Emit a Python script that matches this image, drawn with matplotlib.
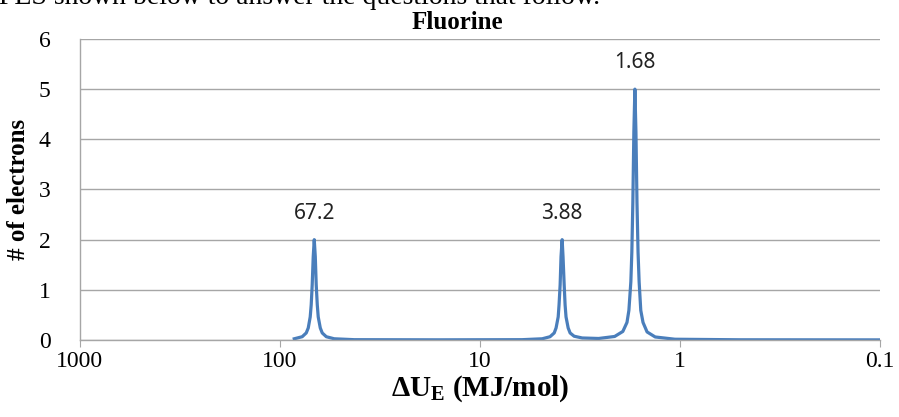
import matplotlib.pyplot as plt

plt.rcParams['mathtext.fontset'] = 'custom'
plt.rcParams['mathtext.rm'] = 'Liberation Serif'
plt.rcParams['mathtext.bf'] = 'Liberation Serif:bold'

# PES spectrum of fluorine
peak_a_x = [84.6, 77.2, 73.7, 72.0, 70.4, 69.6, 68.8, 68.0, 67.2, 66.4, 65.7, 64.9,
            64.2, 62.7, 61.3, 58.5, 53.4, 42.4]
peak_a_y = [0.024, 0.065, 0.14, 0.24, 0.46, 0.70, 1.10, 1.66, 2.0, 1.66, 1.10, 0.70,
            0.46, 0.24, 0.14, 0.065, 0.024, 0.006]
gap_x = [16.0]
gap_y = [0.003]
peak_b_x = [6.15, 4.88, 4.46, 4.25, 4.16, 4.06, 4.02, 3.97, 3.93, 3.88, 3.84, 3.79,
            3.75, 3.71, 3.62, 3.54, 3.38, 3.08, 2.55]
peak_b_y = [0.006, 0.024, 0.065, 0.14, 0.24, 0.46, 0.70, 1.10, 1.66, 2.0, 1.66, 1.10,
            0.70, 0.46, 0.24, 0.14, 0.075, 0.04, 0.03]
peak_c_x = [2.12, 1.93, 1.84, 1.80, 1.76, 1.74, 1.72, 1.70, 1.68, 1.66, 1.64, 1.62,
            1.60, 1.57, 1.53, 1.46, 1.33, 1.06, 0.5, 0.1]
peak_c_y = [0.07, 0.17, 0.35, 0.59, 1.16, 1.75, 2.74, 4.15, 5.0, 4.15, 2.74, 1.75,
            1.16, 0.59, 0.35, 0.16, 0.06, 0.015, 0.004, 0.002]

label_x = [67.2, 3.88, 1.68]
label_y = [2, 2, 5]
label_text = ['67.2', '3.88', '1.68']

x_ticks = [1000, 100, 10, 1, 0.1]
x_tick_labels = ['1000', '100', '10', '1', '0.1']
y_ticks = [0, 1, 2, 3, 4, 5, 6]

x = peak_a_x + gap_x + peak_b_x + peak_c_x
y = peak_a_y + gap_y + peak_b_y + peak_c_y

fig = plt.figure(figsize=(8.99, 4.17), dpi=100)
ax = fig.add_axes([0.0885, 0.1847, 0.8905, 0.7218])

ax.plot(x, y, color='#4A7EBB', lw=2.3, solid_joinstyle='round')

ax.set_xscale('log')
ax.set_xlim(1000, 0.1)
ax.set_ylim(0, 6)
ax.set_xticks(x_ticks)
ax.set_xticklabels(x_tick_labels)
ax.minorticks_off()
ax.set_yticks(y_ticks)

grid_c = '#A6A6A6'
ax.grid(axis='y', color=grid_c, lw=1.0)
ax.set_axisbelow(True)
for s in ['top', 'right']:
    ax.spines[s].set_visible(False)
for s in ['left', 'bottom']:
    ax.spines[s].set_color(grid_c)
    ax.spines[s].set_linewidth(1.0)

ax.tick_params(axis='x', length=5, color=grid_c, pad=3, labelsize=17)
ax.tick_params(axis='y', length=0, pad=21, labelsize=17)
for lab in ax.get_xticklabels() + ax.get_yticklabels():
    lab.set_family('Liberation Serif')

for px, py, t in zip(label_x, label_y, label_text):
    ax.annotate(t, (px, py), xytext=(0, 19), textcoords='offset points',
                ha='center', va='center', fontsize=15, family='Noto Sans', color='#222222')

fig.text(0.509, 0.945, 'Fluorine', ha='center', va='center', fontsize=18,
         fontweight='bold', family='Liberation Serif')
ax.set_xlabel(r'$\mathbf{\Delta U_E}$ (MJ/mol)', fontsize=21, fontweight='bold',
              family='Liberation Serif', labelpad=1)
ax.set_ylabel('# of electrons', fontsize=18, fontweight='bold',
              family='Liberation Serif', labelpad=6)

# clipped line of text from the page above the chart
fig.text(0.667, 1.0 - 4 / 417, 'Use the PES shown below to answer the questions that follow.',
         ha='right', va='baseline', fontsize=20, family='Liberation Serif')

fig.savefig('out.png', dpi=100)
